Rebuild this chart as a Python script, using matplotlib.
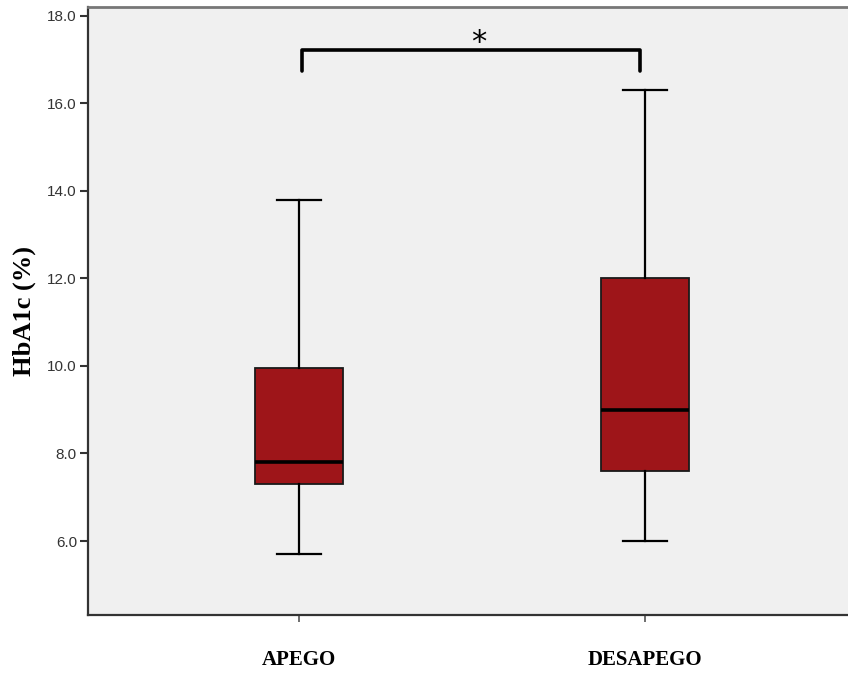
import matplotlib
matplotlib.use('Agg')
import matplotlib.pyplot as plt

# datos
grupos = ['APEGO', 'DESAPEGO']
minimo = [5.7, 6.0]
q1 = [7.3, 7.6]
mediana = [7.8, 9.0]
q3 = [9.95, 12.0]
maximo = [13.8, 16.3]

fig = plt.figure(figsize=(8.48, 6.74), dpi=100)
ax = fig.add_axes([88/848, 59/674, 1 - 88/848, 608/674])
ax.set_facecolor('#f0f0f0')

stats = []
for i in range(len(grupos)):
    stats.append({'label': grupos[i], 'whislo': minimo[i], 'q1': q1[i],
                  'med': mediana[i], 'q3': q3[i], 'whishi': maximo[i], 'fliers': []})

ax.bxp(stats, positions=[1, 2], widths=0.255, patch_artist=True, showfliers=False,
       boxprops=dict(facecolor='#9e1519', edgecolor='#1a1a1a', linewidth=1.3),
       medianprops=dict(color='black', linewidth=2.6),
       whiskerprops=dict(color='black', linewidth=1.6),
       capprops=dict(color='black', linewidth=1.6),
       capwidths=0.125)

ax.set_xlim(0.39, 2.587)
ax.set_ylim(4.31, 18.2)
ax.set_yticks([6, 8, 10, 12, 14, 16, 18])
ax.set_yticklabels(['6.0', '8.0', '10.0', '12.0', '14.0', '16.0', '18.0'],
                   fontfamily='Liberation Sans', fontsize=11, color='#333333')
ax.set_xticks([1, 2])
ax.set_xticklabels(grupos, fontfamily='Liberation Serif', fontweight='bold', fontsize=15)
ax.tick_params(axis='y', length=6, width=1.5, color='#333333', pad=2)
ax.tick_params(axis='x', length=5, width=1.2, color='#555555', pad=20)
ax.set_ylabel('HbA1c (%)', fontfamily='Liberation Serif', fontweight='bold', fontsize=19, labelpad=8)

for s in ['left', 'bottom']:
    ax.spines[s].set_color('#333333')
    ax.spines[s].set_linewidth(1.6)
ax.spines['top'].set_color('#777777')
ax.spines['top'].set_linewidth(2)
ax.spines['right'].set_visible(False)

# corchete de significancia
ax.plot([1.01, 1.01, 1.985, 1.985], [16.74, 17.22, 17.22, 16.74], color='black',
        linewidth=2.6, solid_joinstyle='round', solid_capstyle='round')
ax.text(1.52, 17.05, '*', ha='center', va='bottom', fontsize=22, fontfamily='DejaVu Sans')

fig.savefig('out.png', dpi=100)
